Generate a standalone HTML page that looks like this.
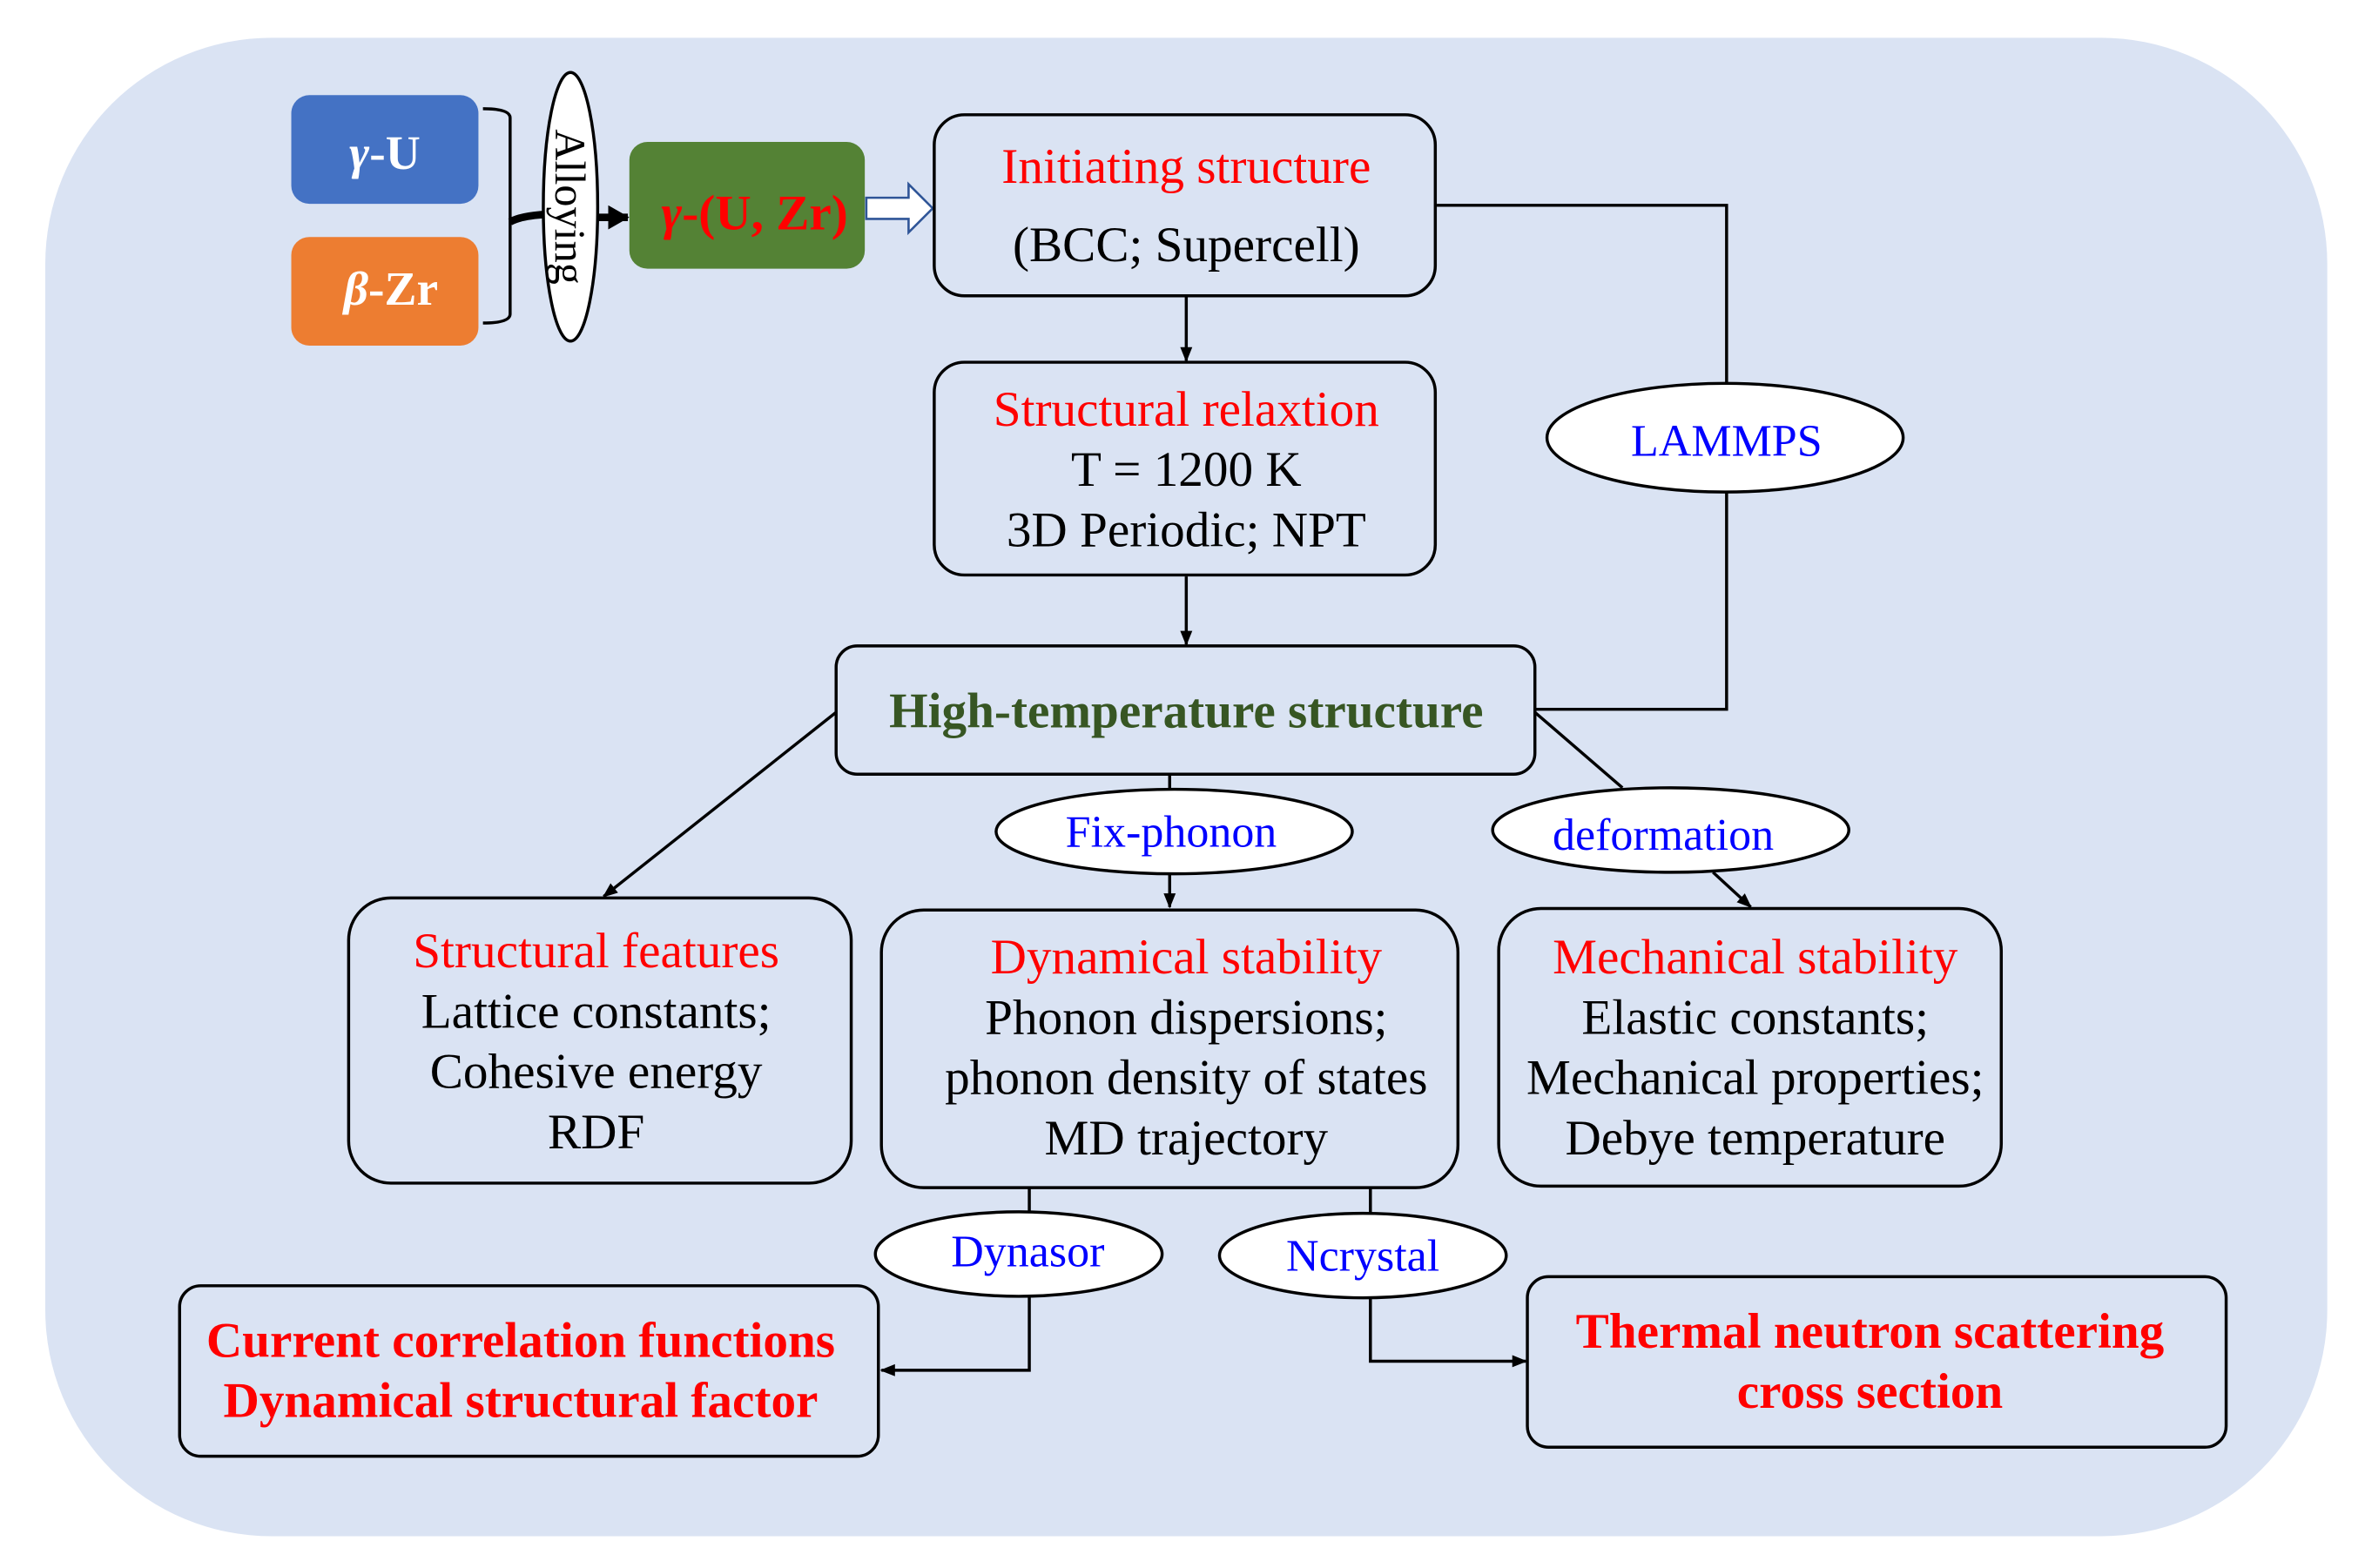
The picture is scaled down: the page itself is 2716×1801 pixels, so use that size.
<!DOCTYPE html>
<html><head><meta charset="utf-8"><style>html,body{margin:0;padding:0;background:#fff}svg{display:block}</style></head>
<body>
<svg width="2716" height="1801" viewBox="0 0 1567 1039" xmlns="http://www.w3.org/2000/svg" font-family="Liberation Serif, serif">
<defs>
<marker id="a" markerWidth="10" markerHeight="10" refX="9" refY="5" orient="auto" markerUnits="userSpaceOnUse"><path d="M0,1 L10,5 L0,9 z" fill="#000"/></marker>
<marker id="b" markerWidth="14" markerHeight="16" refX="13" refY="8" orient="auto" markerUnits="userSpaceOnUse"><path d="M0,0 L14,8 L0,16 z" fill="#000"/></marker>
</defs>
<rect x="30" y="25" width="1512" height="993" rx="150" fill="#DAE3F3"/>
<rect x="193" y="63" width="124" height="72" rx="12" fill="#4472C4"/>
<text x="255" y="112" text-anchor="middle" font-size="32" font-weight="bold" fill="#fff"><tspan font-style="italic">γ</tspan>-U</text>
<rect x="193" y="157" width="124" height="72" rx="12" fill="#ED7D31"/>
<text x="259" y="202" text-anchor="middle" font-size="32" font-weight="bold" fill="#fff"><tspan font-style="italic">β</tspan>-Zr</text>
<path d="M320,72 Q338,72 338,78 L338,208 Q338,214 320,214" fill="none" stroke="#000" stroke-width="2"/>
<path d="M338,147 Q345,143 362,142" fill="none" stroke="#000" stroke-width="5"/>
<ellipse cx="378" cy="137" rx="18" ry="89" fill="#fff" stroke="#000" stroke-width="2"/>
<text transform="translate(368,137) rotate(90)" text-anchor="middle" font-size="29" fill="#000">Alloying</text>
<line x1="396" y1="144" x2="416" y2="144" stroke="#000" stroke-width="5" marker-end="url(#b)"/>
<rect x="417" y="94" width="156" height="84" rx="12" fill="#548235"/>
<text x="500" y="152" text-anchor="middle" font-size="33" font-weight="bold" fill="#FF0000"><tspan font-style="italic">γ</tspan>-(U, Zr)</text>
<path d="M574,131 L602,131 L602,122 L618,138 L602,154 L602,145 L574,145 z" fill="#fff" stroke="#2F5597" stroke-width="1.5"/>
<g fill="none" stroke="#000" stroke-width="2">
<rect x="619" y="76" width="332" height="120" rx="20"/>
<rect x="619" y="240" width="332" height="141" rx="20"/>
<rect x="554" y="428" width="463" height="85" rx="14"/>
<rect x="231" y="595" width="333" height="189" rx="28"/>
<rect x="584" y="603" width="382" height="184" rx="28"/>
<rect x="993" y="602" width="333" height="184" rx="28"/>
<rect x="119" y="852" width="463" height="113" rx="14"/>
<rect x="1012" y="846" width="463" height="113" rx="14"/>
<path d="M952,136 L1144,136 L1144,470 L1017,470"/>
<line x1="786" y1="197" x2="786" y2="239" marker-end="url(#a)"/>
<line x1="786" y1="382" x2="786" y2="427" marker-end="url(#a)"/>
<line x1="554" y1="472" x2="400" y2="594" marker-end="url(#a)"/>
<line x1="775" y1="514" x2="775" y2="530"/>
<line x1="775" y1="579" x2="775" y2="601" marker-end="url(#a)"/>
<line x1="1017" y1="472" x2="1075" y2="522"/>
<line x1="1135" y1="578" x2="1160" y2="601" marker-end="url(#a)"/>
<line x1="682" y1="787" x2="682" y2="810"/>
<path d="M682,858 L682,908 L584,908" marker-end="url(#a)"/>
<line x1="908" y1="787" x2="908" y2="805"/>
<path d="M908,860 L908,902 L1011,902" marker-end="url(#a)"/>
</g>
<g fill="#fff" stroke="#000" stroke-width="2">
<ellipse cx="1143" cy="290" rx="118" ry="36"/>
<ellipse cx="778" cy="551" rx="118" ry="28"/>
<ellipse cx="1107" cy="550" rx="118" ry="28"/>
<ellipse cx="675" cy="831" rx="95" ry="28"/>
<ellipse cx="903" cy="832" rx="95" ry="28"/>
</g>
<g font-size="30" fill="#0000FF" text-anchor="middle">
<text x="1144" y="302">LAMMPS</text>
<text x="776" y="561">Fix-phonon</text>
<text x="1102" y="563">deformation</text>
<text x="681" y="839">Dynasor</text>
<text x="903" y="842">Ncrystal</text>
</g>
<g font-size="33" text-anchor="middle">
<text x="786" y="121" fill="#FF0000">Initiating structure</text>
<text x="786" y="173" fill="#000">(BCC; Supercell)</text>
<text x="786" y="282" fill="#FF0000">Structural relaxtion</text>
<text x="786" y="322" fill="#000">T = 1200 K</text>
<text x="786" y="362" fill="#000">3D Periodic; NPT</text>
<text x="786" y="482" fill="#375623" font-weight="bold">High-temperature structure</text>
<text x="395" y="641" fill="#FF0000">Structural features</text>
<text x="395" y="681" fill="#000">Lattice constants;</text>
<text x="395" y="721" fill="#000">Cohesive energy</text>
<text x="395" y="761" fill="#000">RDF</text>
<text x="786" y="645" fill="#FF0000">Dynamical stability</text>
<text x="786" y="685" fill="#000">Phonon dispersions;</text>
<text x="786" y="725" fill="#000">phonon density of states</text>
<text x="786" y="765" fill="#000">MD trajectory</text>
<text x="1163" y="645" fill="#FF0000">Mechanical stability</text>
<text x="1163" y="685" fill="#000">Elastic constants;</text>
<text x="1163" y="725" fill="#000">Mechanical properties;</text>
<text x="1163" y="765" fill="#000">Debye temperature</text>
<text x="345" y="899" fill="#FF0000" font-weight="bold">Current correlation functions</text>
<text x="345" y="939" fill="#FF0000" font-weight="bold">Dynamical structural factor</text>
<text x="1239" y="893" fill="#FF0000" font-weight="bold">Thermal neutron scattering</text>
<text x="1239" y="933" fill="#FF0000" font-weight="bold">cross section</text>
</g>
</svg>
</body></html>
